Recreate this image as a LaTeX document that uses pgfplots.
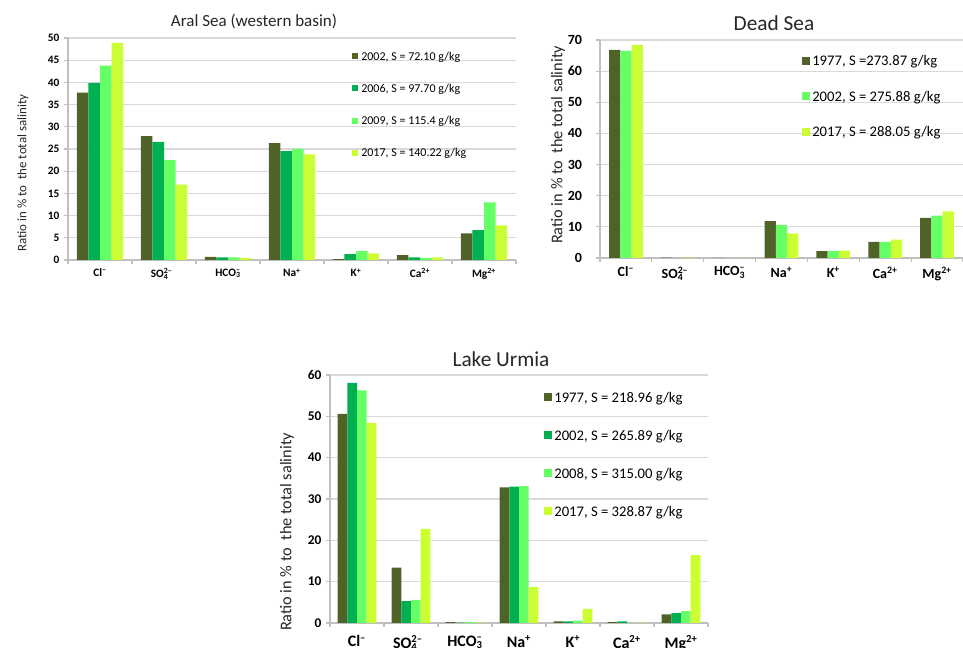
\documentclass[border=0pt]{standalone}
\usepackage{fontspec}
\setmainfont{Carlito}
\usepackage{pgfplots}
\pgfplotsset{compat=1.18}
\definecolor{cOlive}{RGB}{79,98,40}
\definecolor{cGreen}{RGB}{0,176,80}
\definecolor{cLight}{RGB}{102,255,102}
\definecolor{cYellow}{RGB}{204,255,51}
\definecolor{cAxis}{RGB}{191,191,191}
\definecolor{cGrid}{RGB}{217,217,217}
% legend swatches (square set in the text line)
\newcommand\sqA[1]{\raisebox{0.65pt}{\textcolor{#1}{\rule{4.5pt}{4.5pt}}}\hspace{2.6pt}}
\newcommand\sqB[1]{\raisebox{0.55pt}{\textcolor{#1}{\rule{6pt}{6pt}}}\hspace{2pt}}
\pgfplotsset{saltchart/.style={
  scale only axis, ybar=0pt, xmin=-0.5, xmax=6.5, ymin=0,
  axis x line*=bottom, axis y line*=left,
  axis line style={draw=cAxis, line width=0.8pt, -},
  ymajorgrids, grid style={draw=cGrid, line width=0.8pt},
  tick align=outside, major tick length=3pt,
  ytick style={draw=cAxis, line width=0.8pt},
  xtick={0,1,2,3,4,5,6},
  xticklabels={{Cl\textsuperscript{–}},{SO\rlap{\textsuperscript{2–}}\textsubscript{4}\hphantom{\textsuperscript{2–}}},{HCO\rlap{\textsuperscript{–}}\textsubscript{3}},{Na\textsuperscript{+}},{K\textsuperscript{+}},{Ca\textsuperscript{2+}},{Mg\textsuperscript{2+}}},
  xtick style={draw=none},
  extra x ticks={-0.5,0.5,1.5,2.5,3.5,4.5,5.5,6.5},
  extra x tick labels={},
  extra x tick style={grid=none, xtick style={draw=cAxis, line width=0.8pt}},
  /pgf/number format/assume math mode=true,
  legend cell align=left,
  every axis plot/.append style={draw=none},
}}
\begin{document}
\begin{tikzpicture}
\path[use as bounding box] (0,0) rectangle (722.25pt,486pt);

% ---------------- Aral Sea
\begin{axis}[saltchart, at={(51pt,291pt)}, anchor=south west,
  width=336pt, height=166.5pt, ymax=50, ytick={0,5,...,50},
  bar width=0.18,
  yticklabel style={font=\fontsize{8.5}{10}\selectfont\bfseries},
  xticklabel style={font=\fontsize{8.5}{10}\selectfont\bfseries},
  legend image code/.code={},
  legend style={at={(0.630,0.950)}, anchor=north west, draw=none, fill=none,
    inner sep=0pt, row sep=12.7pt, font=\fontsize{9}{10.8}\selectfont,
    nodes={inner sep=1pt, text height=0.7em, text depth=0.25em}},
]
\addplot[fill=cOlive] coordinates {(0,37.7) (1,27.9) (2,0.7) (3,26.3) (4,0.2) (5,1.1) (6,6.0)};
\addplot[fill=cGreen] coordinates {(0,39.9) (1,26.6) (2,0.6) (3,24.5) (4,1.3) (5,0.6) (6,6.7)};
\addplot[fill=cLight] coordinates {(0,43.8) (1,22.5) (2,0.6) (3,25.0) (4,2.0) (5,0.5) (6,13.0)};
\addplot[fill=cYellow] coordinates {(0,48.9) (1,17.0) (2,0.5) (3,23.8) (4,1.5) (5,0.6) (6,7.8)};
\legend{{\sqA{cOlive}2002, S = 72.10 g/kg},{\sqA{cGreen}2006, S = 97.70 g/kg},{\sqA{cLight}2009, S = 115.4 g/kg},{\sqA{cYellow}2017, S = 140.22 g/kg}}
\end{axis}

% ---------------- Dead Sea
\begin{axis}[saltchart, at={(450pt,292.5pt)}, anchor=south west,
  width=272.25pt, height=163.5pt, ymax=70, ytick={0,10,...,70},
  bar width=0.217,
  yticklabel style={font=\fontsize{10.5}{12}\selectfont\bfseries, xshift=-7pt},
  xticklabel style={font=\fontsize{10.5}{12}\selectfont\bfseries},
  legend image code/.code={},
  legend style={at={(0.551,0.931)}, anchor=north west, draw=none, fill=none,
    inner sep=0pt, row sep=14.9pt, font=\fontsize{11}{13}\selectfont,
    nodes={inner sep=1pt, text height=0.7em, text depth=0.25em}},
]
\addplot[fill=cOlive] coordinates {(0,66.8) (1,0.1) (2,0.0) (3,11.8) (4,2.2) (5,5.2) (6,12.9)};
\addplot[fill=cLight] coordinates {(0,66.5) (1,0.05) (2,0.0) (3,10.6) (4,2.2) (5,5.2) (6,13.6)};
\addplot[fill=cYellow] coordinates {(0,68.4) (1,0.15) (2,0.0) (3,7.9) (4,2.4) (5,5.9) (6,15.0)};
\legend{{\sqB{cOlive}1977, S =273.87 g/kg},{\sqB{cLight}2002, S = 275.88 g/kg},{\sqB{cYellow}2017, S = 288.05 g/kg}}
\end{axis}

% ---------------- Lake Urmia
\begin{axis}[saltchart, at={(247.5pt,18.75pt)}, anchor=south west,
  width=283.5pt, height=186pt, ymax=60, ytick={0,10,...,60},
  bar width=0.18,
  yticklabel style={font=\fontsize{10}{12}\selectfont\bfseries},
  xticklabel style={font=\fontsize{12}{14}\selectfont\bfseries, yshift=-3pt},
  legend image code/.code={},
  legend style={at={(0.561,0.935)}, anchor=north west, draw=none, fill=none,
    inner sep=0pt, row sep=17pt, font=\fontsize{11}{13}\selectfont,
    nodes={inner sep=1pt, text height=0.7em, text depth=0.25em}},
]
\addplot[fill=cOlive] coordinates {(0,50.6) (1,13.4) (2,0.2) (3,32.8) (4,0.4) (5,0.2) (6,2.1)};
\addplot[fill=cGreen] coordinates {(0,58.1) (1,5.3) (2,0.1) (3,33.0) (4,0.4) (5,0.4) (6,2.4)};
\addplot[fill=cLight] coordinates {(0,56.3) (1,5.6) (2,0.3) (3,33.1) (4,0.6) (5,0.1) (6,2.9)};
\addplot[fill=cYellow] coordinates {(0,48.4) (1,22.8) (2,0.1) (3,8.7) (4,3.4) (5,0.1) (6,16.4)};
\legend{{\sqB{cOlive}1977, S = 218.96 g/kg},{\sqB{cGreen}2002, S = 265.89 g/kg},{\sqB{cLight}2008, S = 315.00 g/kg},{\sqB{cYellow}2017, S = 328.87 g/kg}}
\end{axis}

% titles
\node[anchor=base, font=\fontsize{12.75}{15}\selectfont, text=black!85] at (190.5pt,465.75pt) {Aral Sea (western basin)};
\node[anchor=base, font=\fontsize{16}{19}\selectfont, text=black!85] at (580.5pt,462.75pt) {Dead Sea};
\node[anchor=base, font=\fontsize{16}{19}\selectfont, text=black!85] at (375.75pt,210.75pt) {Lake Urmia};
% y labels
\node[rotate=90, font=\fontsize{9.7}{11}\selectfont, text=black!85] at (17.25pt,356.25pt) {Ratio in \% to\ \ the total salinity};
\node[rotate=90, font=\fontsize{12.25}{14}\selectfont, text=black!85] at (418.5pt,377.25pt) {Ratio in \% to\ \ the total salinity};
\node[rotate=90, font=\fontsize{12.25}{14}\selectfont, text=black!85] at (215.25pt,87pt) {Ratio in \% to\ \ the total salinity};
\end{tikzpicture}
\end{document}
